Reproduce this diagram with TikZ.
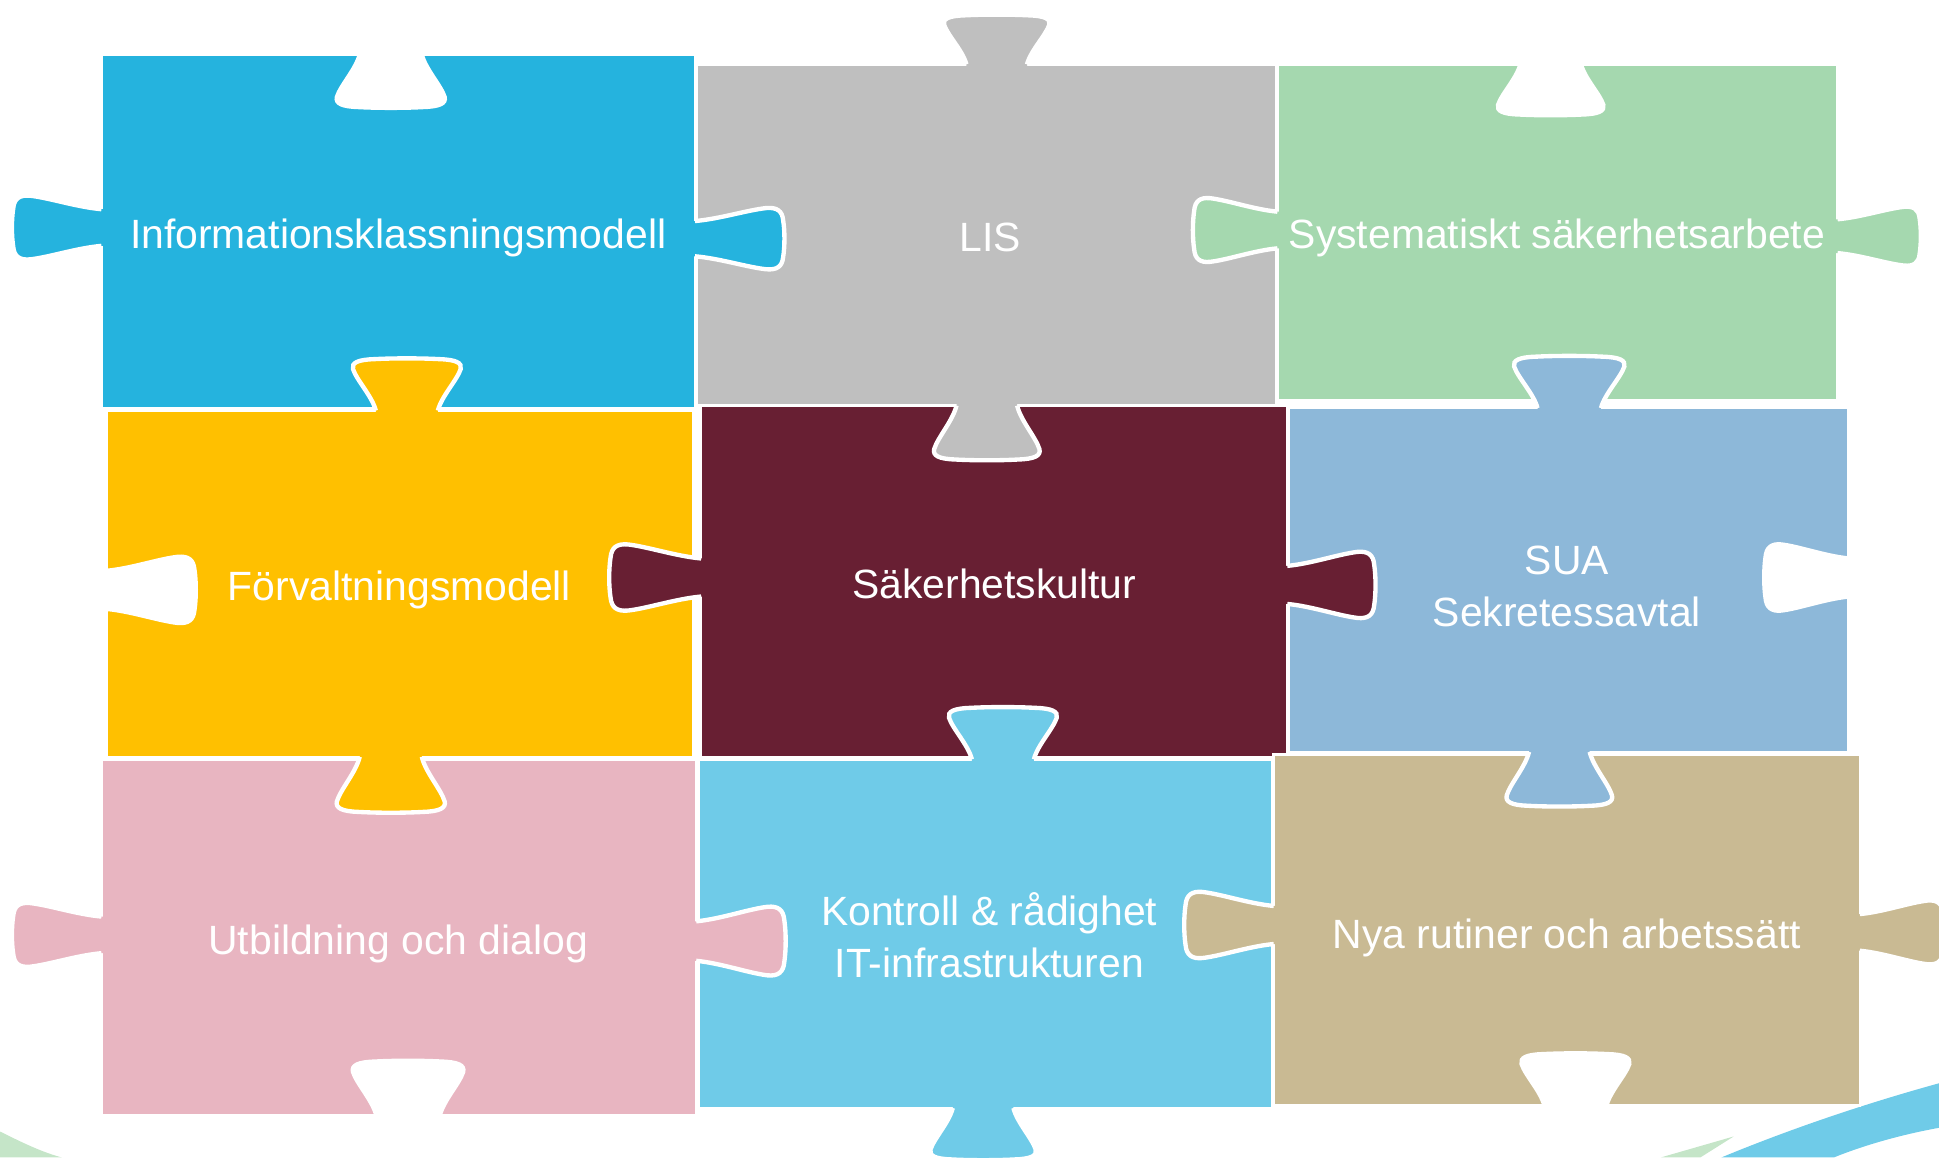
\documentclass[tikz,border=0pt]{standalone}
\usepackage{fontspec}
\setmainfont{Liberation Sans}

\definecolor{infoblue}{HTML}{25B3DE}
\definecolor{lisgray}{HTML}{BFBFBF}
\definecolor{sysgreen}{HTML}{A5D8AF}
\definecolor{forvyellow}{HTML}{FFC000}
\definecolor{kulturred}{HTML}{681F33}
\definecolor{suablue}{HTML}{8DB8D9}
\definecolor{utbpink}{HTML}{E8B5C1}
\definecolor{itblue}{HTML}{6FCBE8}
\definecolor{rutintan}{HTML}{C9BA93}
\definecolor{swooshgreen}{HTML}{C5E5C8}

% knob outline, from neck to neck
\newcommand{\knobcurve}{(0,-0.57)
      .. controls (0.28,-0.64) and (0.58,-0.92) .. (0.8,-0.99)
      .. controls (0.92,-1.02) and (0.98,-0.9) .. (0.99,-0.6)
      .. controls (1.01,-0.25) and (1.01,0.25) .. (0.99,0.6)
      .. controls (0.98,0.9) and (0.92,1.02) .. (0.8,0.99)
      .. controls (0.58,0.92) and (0.28,0.64) .. (0,0.57)}

% knob: colour, x, y, angle, length, half width
\newcommand{\puzzleknob}[6]{%
  \begin{scope}[shift={(#2,#3)}, rotate=#4, xscale=#5, yscale=#6]
    \fill[#1] (-0.08,-0.57) -- \knobcurve -- (-0.08,0.57) -- cycle;
    \draw[knobedge] \knobcurve;
  \end{scope}}

\begin{document}
\begin{tikzpicture}[x=0.01cm, y=-0.01cm]

    % Define styles
    \tikzset{
        piece/.style = {draw=white, line width=0.6pt},
        knobedge/.style = {draw=white, line width=1pt},
        piecetext/.style = {text=white, inner sep=0pt, align=center, font=\fontsize{9.4}{11.9}\selectfont}
    }

    \useasboundingbox (0,0) rectangle (1568,936);

    % Background swooshes
    \fill[swooshgreen] (0,915) .. controls (20,925) and (35,932) .. (50,936) -- (0,936) -- cycle;
    \fill[itblue] (1392,936) .. controls (1450,912) and (1510,892) .. (1568,876) -- (1568,912) .. controls (1535,918) and (1505,927) .. (1483,936) -- cycle;
    \fill[swooshgreen] (1343,936) -- (1402,919) -- (1375,936) -- cycle;

    % Pieces
    \path[piece, fill=infoblue] (82,44) rectangle (562,330);
    \path[piece, fill=lisgray] (563,52) rectangle (1032,328);
    \path[piece, fill=sysgreen] (1033,52) rectangle (1486,324);
    \path[piece, fill=forvyellow] (86,332) rectangle (561,612);
    \path[piece, fill=kulturred] (567,328) rectangle (1041,612);
    \path[piece, fill=suablue] (1042,330) rectangle (1495,608);
    \path[piece, fill=utbpink] (82,614) rectangle (563,902);
    \path[piece, fill=itblue] (565,614) rectangle (1029,896);
    \path[piece, fill=rutintan] (1030,610) rectangle (1504,894);

    % Knobs and holes
    \puzzleknob{white}{316}{44}{-90}{43}{44}
    \puzzleknob{infoblue}{82}{184}{180}{72}{26}
    \puzzleknob{infoblue}{562}{193}{0}{72}{25}
    \puzzleknob{lisgray}{806}{52}{90}{40}{43}
    \puzzleknob{lisgray}{798}{328}{-90}{44}{43}
    \puzzleknob{white}{1254}{52}{-90}{41}{43}
    \puzzleknob{sysgreen}{1033}{186}{180}{68}{26}
    \puzzleknob{sysgreen}{1486}{191}{0}{67}{24}
    \puzzleknob{forvyellow}{329}{332}{90}{42}{44}
    \puzzleknob{white}{86}{477}{0}{72}{27}
    \puzzleknob{forvyellow}{316}{612}{-90}{45}{44}
    \puzzleknob{kulturred}{567}{467}{180}{74}{27}
    \puzzleknob{kulturred}{1041}{473}{0}{71}{27}
    \puzzleknob{suablue}{1269}{330}{90}{42}{45}
    \puzzleknob{white}{1495}{467}{180}{68}{27}
    \puzzleknob{suablue}{1261}{608}{-90}{44}{43}
    \puzzleknob{utbpink}{82}{756}{180}{72}{26}
    \puzzleknob{utbpink}{563}{761}{0}{72}{28}
    \puzzleknob{white}{330}{902}{90}{44}{45}
    \puzzleknob{itblue}{811}{614}{90}{42}{44}
    \puzzleknob{itblue}{795}{896}{-90}{42}{43}
    \puzzleknob{rutintan}{1030}{748}{180}{72}{27}
    \puzzleknob{rutintan}{1504}{754}{0}{68}{26}
    \puzzleknob{white}{1274}{894}{90}{42}{44}

    % Labels
    \node (info) [piecetext, anchor=base] at (322,201) {Informationsklassningsmodell};
    \node (lis) [piecetext, anchor=base] at (801,203) {LIS};
    \node (sys) [piecetext, anchor=base] at (1259,201) {Systematiskt säkerhetsarbete};
    \node (forv) [piecetext, anchor=base] at (323,486) {Förvaltningsmodell};
    \node (kultur) [piecetext, anchor=base] at (804,484) {Säkerhetskultur};
    \node (sua) [piecetext] at (1267,474) {SUA\\Sekretessavtal};
    \node (utb) [piecetext, anchor=base] at (322,772) {Utbildning och dialog};
    \node (kontroll) [piecetext] at (800,756) {Kontroll \& rådighet\\IT-infrastrukturen};
    \node (rutin) [piecetext, anchor=base] at (1267,767) {Nya rutiner och arbetssätt};
\end{tikzpicture}
\end{document}
